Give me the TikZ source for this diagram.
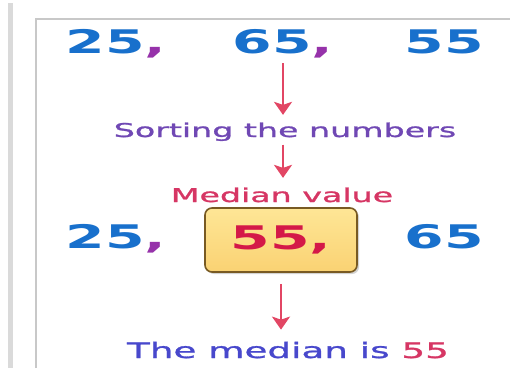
\documentclass[tikz,border=0pt]{standalone}
\usepackage{fontspec}
\setmainfont{DejaVu Sans}[FakeStretch=1.75]
\newfontfamily\heavyfont{DejaVu Sans}[FakeStretch=1.75, FakeBold=1.3]
\usepackage{xcolor}
\usetikzlibrary{arrows.meta, positioning, shadows}

\definecolor{numblue}{RGB}{24,112,204}
\definecolor{commapurple}{RGB}{150,50,170}
\definecolor{arrowred}{RGB}{226,70,100}
\definecolor{sortviolet}{RGB}{112,72,180}
\definecolor{medianred}{RGB}{214,54,100}
\definecolor{boxred}{RGB}{212,24,72}
\definecolor{tailblue}{RGB}{72,72,204}
\definecolor{boxtop}{RGB}{254,230,150}
\definecolor{boxbottom}{RGB}{250,210,115}
\definecolor{boxdraw}{RGB}{120,90,35}
\definecolor{framegray}{RGB}{200,200,200}
\definecolor{bargray}{RGB}{218,218,218}

\begin{document}
\begin{tikzpicture}[x=1pt, y=-1pt,
    num/.style={font=\bfseries\fontsize{32.5}{36}\selectfont, text=numblue, inner sep=0pt, anchor=base},
    caption/.style={font=\heavyfont\fontsize{19}{22}\selectfont, inner sep=0pt, anchor=base},
    medianbox/.style={rectangle, rounded corners=7pt, draw=boxdraw, line width=1.6pt, top color=boxtop, bottom color=boxbottom, minimum width=152pt, minimum height=64pt, inner sep=0pt, font=\bfseries\fontsize{32.5}{36}\selectfont, text=boxred, drop shadow={shadow xshift=2pt, shadow yshift=-2pt, opacity=0.35}},
    line/.style={draw=arrowred, line width=2.2pt, -{Stealth[length=13pt, width=18pt, inset=3pt]}}]

    \useasboundingbox (0,0) rectangle (510,368);

    % page frame
    \fill[bargray] (8,3) rectangle (13,368);
    \draw[framegray, line width=2pt] (36,368) -- (36,19) -- (510,19);

    % unsorted numbers
    \node [num] (first) at (116,53) {25\textcolor{commapurple}{,}};
    \node [num] (second) at (283,53) {65\textcolor{commapurple}{,}};
    \node [num] (third) at (444,53) {55};

    \node [caption, text=sortviolet] (sort) at (285,137) {Sorting the numbers};
    \node [caption, text=medianred] (medlabel) at (282,202) {Median value};

    % sorted numbers
    \node [num] (low) at (116,248) {25\textcolor{commapurple}{,}};
    \node [medianbox] (mid) at (281,240) {55,};
    \node [num] (high) at (444,248) {65};

    \node [caption, font=\heavyfont\fontsize{21.3}{24}\selectfont, text=tailblue] (result) at (288,358) {The median is \textcolor{medianred}{55}};

    \path [line, shorten <=5.5pt, shorten >=7.5pt] (second.south) -- (second.south |- sort.north);
    \path [line, shorten <=3.5pt, shorten >=9.5pt] (second.south |- sort.south) -- (second.south |- medlabel.north);
    \path [line, shorten <=11pt, shorten >=12pt] (mid.south) -- (mid.south |- result.north);
\end{tikzpicture}
\end{document}
